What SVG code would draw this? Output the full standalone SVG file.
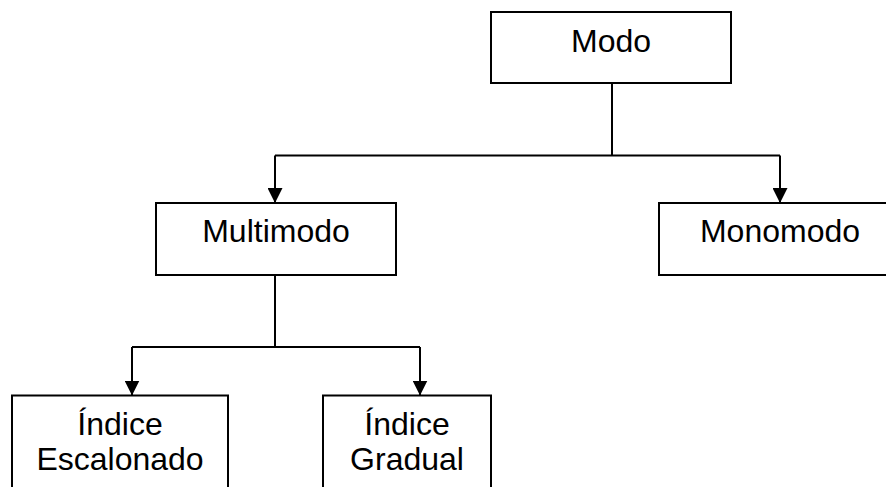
<svg xmlns="http://www.w3.org/2000/svg" width="886" height="487" viewBox="0 0 886 487">
<defs>
<style>
.box{fill:#fff;stroke:#000;stroke-width:2}
.lbl{font-family:"Liberation Sans",Arial,sans-serif;font-size:32px;fill:#000;text-anchor:middle}
.ln{fill:none;stroke:#000;stroke-width:2}
</style>
<marker id="ah" viewBox="0 0 10 10" refX="10" refY="5" markerWidth="15" markerHeight="15" markerUnits="userSpaceOnUse" orient="auto">
<path d="M0,0 L10,5 L0,10 Z" fill="#000"/>
</marker>
</defs>
<rect width="886" height="487" fill="#fff"/>
<g id="connectors">
<path class="ln" d="M612,83 V155.5"/>
<path class="ln" d="M275,155.5 H780"/>
<path class="ln" d="M275,155.5 V203" marker-end="url(#ah)"/>
<path class="ln" d="M780,155.5 V203" marker-end="url(#ah)"/>
<path class="ln" d="M275,275 V347"/>
<path class="ln" d="M132,347 H420"/>
<path class="ln" d="M132,347 V395.5" marker-end="url(#ah)"/>
<path class="ln" d="M420,347 V395.5" marker-end="url(#ah)"/>
</g>
<g id="modo">
<rect class="box" x="491" y="12" width="240" height="71"/>
<text class="lbl" x="611" y="52">Modo</text>
</g>
<g id="multimodo">
<rect class="box" x="156" y="203" width="240" height="72"/>
<text class="lbl" x="276" y="242">Multimodo</text>
</g>
<g id="monomodo">
<rect class="box" x="659" y="203" width="242" height="72"/>
<text class="lbl" x="780" y="242">Monomodo</text>
</g>
<g id="indice-escalonado">
<rect class="box" x="12" y="395.5" width="216" height="110"/>
<text class="lbl" x="120" y="435">Índice</text>
<text class="lbl" x="120" y="470">Escalonado</text>
</g>
<g id="indice-gradual">
<rect class="box" x="323" y="395.5" width="168" height="110"/>
<text class="lbl" x="407" y="435">Índice</text>
<text class="lbl" x="407" y="470">Gradual</text>
</g>
</svg>
